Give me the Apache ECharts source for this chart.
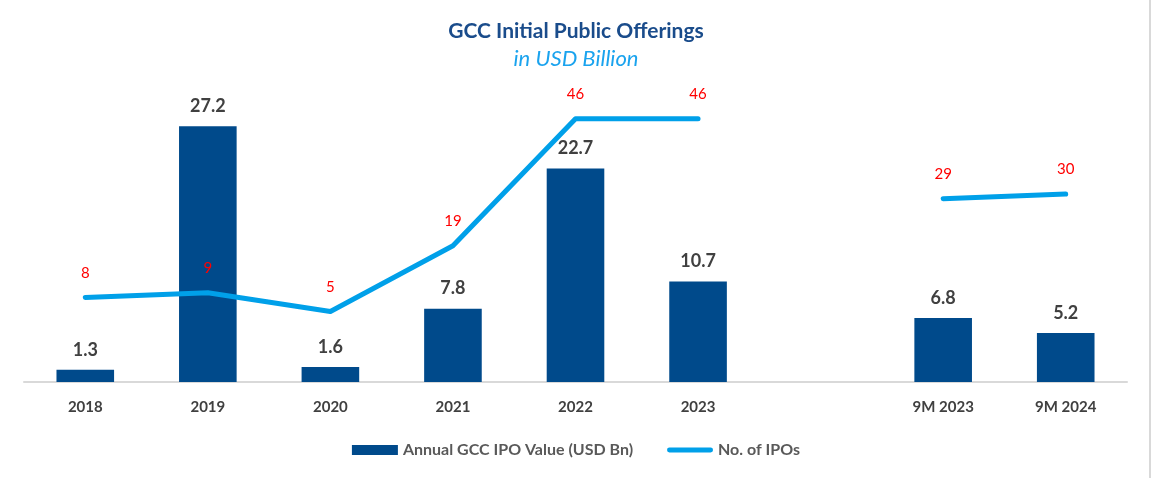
<!DOCTYPE html>
<html>
<head>
<meta charset="utf-8">
<script src="https://cdn.jsdelivr.net/npm/echarts@6/dist/echarts.min.js"></script>
<style>
  html, body { margin: 0; padding: 0; background: #ffffff; }
  #chart { width: 1152px; height: 478px; }
</style>
</head>
<body>
<div id="chart"></div>
<script>
const categories = ['2018', '2019', '2020', '2021', '2022', '2023', '', '9M 2023', '9M 2024'];
const ipoValue = [1.3, 27.2, 1.6, 7.8, 22.7, 10.7, null, 6.8, 5.2];
const ipoCount = [8, 9, 5, 19, 46, 46, null, 29, 30];
const seriesNames = ['Annual GCC IPO Value (USD Bn)', 'No. of IPOs'];
const titleText = 'GCC Initial Public Offerings';
const subtitleText = 'in USD Billion';

const FONT = 'Lato, "Noto Sans", sans-serif';
const chart = echarts.init(document.getElementById('chart'), null, { renderer: 'canvas' });

chart.setOption({
  backgroundColor: '#ffffff',
  animation: false,
  textStyle: { fontFamily: FONT },
  title: [
    {
      text: titleText,
      left: 'center',
      top: 16,
      textStyle: { fontFamily: FONT, fontSize: 21, fontWeight: 'bold', color: '#1A4C8B' }
    },
    {
      text: subtitleText,
      left: 'center',
      top: 43,
      textStyle: { fontFamily: FONT, fontSize: 22, fontWeight: 'normal', fontStyle: 'italic', color: '#1AA3EE' }
    }
  ],
  legend: {
    left: 'center',
    top: 437,
    itemGap: 34,
    itemWidth: 46,
    itemHeight: 10,
    textStyle: { fontFamily: FONT, fontSize: 16, fontWeight: 'bold', color: '#595959' },
    data: [
      { name: seriesNames[0], icon: 'rect' },
      { name: seriesNames[1], icon: 'path://M2.5,0 H45.5 A2.5,2.5 0 0 1 45.5,5 H2.5 A2.5,2.5 0 0 1 2.5,0 Z' }
    ]
  },
  grid: { left: 24, right: 25, top: 100, bottom: 96 },
  xAxis: {
    type: 'category',
    data: categories,
    axisLine: { lineStyle: { color: '#D9D9D9', width: 2 } },
    axisTick: { show: false },
    axisLabel: {
      margin: 18,
      fontFamily: FONT,
      fontSize: 15,
      fontWeight: 'bold',
      color: '#404040',
      interval: 0
    }
  },
  yAxis: [
    { type: 'value', min: 0, max: 30, interval: 5, show: false, splitLine: { show: false } },
    { type: 'value', min: -10, max: 50, interval: 10, show: false, splitLine: { show: false } }
  ],
  series: [
    {
      name: seriesNames[0],
      type: 'bar',
      data: ipoValue,
      barWidth: '47%',
      itemStyle: { color: '#004A8B' },
      label: {
        show: true,
        position: 'top',
        distance: 11,
        fontFamily: FONT,
        fontSize: 18,
        fontWeight: 'bold',
        color: '#404040',
        formatter: p => p.value.toFixed(1)
      }
    },
    {
      name: seriesNames[1],
      type: 'line',
      yAxisIndex: 1,
      data: ipoCount,
      connectNulls: false,
      symbol: 'circle',
      symbolSize: 0,
      showSymbol: true,
      lineStyle: { color: '#00A0E9', width: 5, cap: 'round', join: 'round' },
      itemStyle: { color: '#00A0E9' },
      label: {
        show: true,
        position: 'top',
        distance: 17,
        fontFamily: FONT,
        fontSize: 15,
        color: '#FF0000'
      },
      z: 3
    }
  ],
  graphic: [
    {
      type: 'line',
      shape: { x1: 1150, y1: 0, x2: 1150, y2: 478 },
      style: { stroke: '#D9D9D9', lineWidth: 2 }
    }
  ]
});
</script>
</body>
</html>
